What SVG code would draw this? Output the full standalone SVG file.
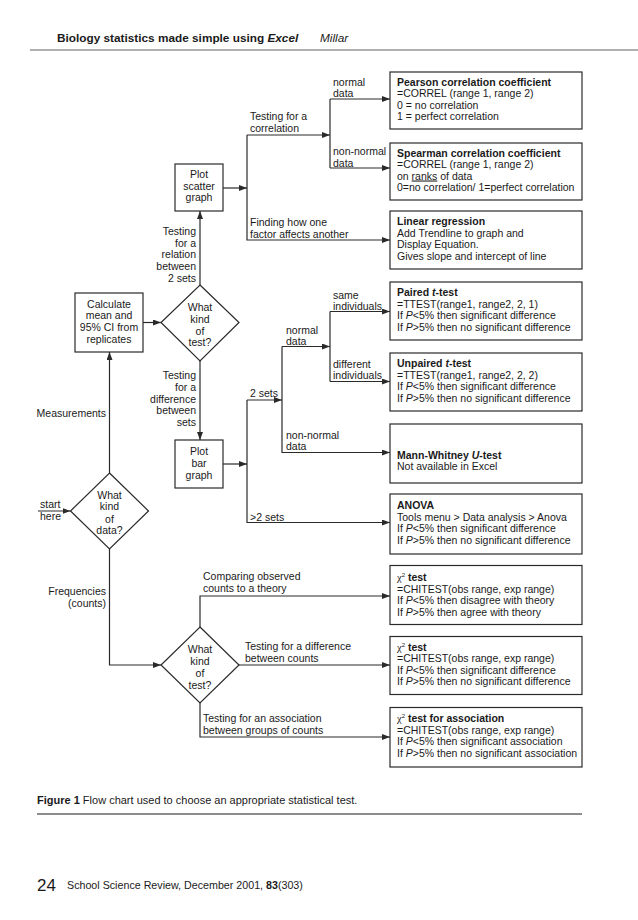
<svg xmlns="http://www.w3.org/2000/svg" width="638" height="920" viewBox="0 0 638 920">
<style>
text{font-family:"Liberation Sans",Arial,sans-serif;font-size:10.5px;fill:#1a1a1a}
.b{font-weight:bold}
.i{font-style:italic}
.m{text-anchor:middle}
.e{text-anchor:end}
.box{fill:#fff;stroke:#2a2a2a;stroke-width:1.2}
.ln{fill:none;stroke:#2a2a2a;stroke-width:1.2}
.ar{marker-end:url(#ah)}
</style>
<defs>
<marker id="ah" markerUnits="userSpaceOnUse" markerWidth="8" markerHeight="6" refX="8" refY="3" orient="auto">
<path d="M0,0 L8,3 L0,6 z" fill="#2a2a2a"/>
</marker>
</defs>
<rect width="638" height="920" fill="#fff"/>
<g id="header">
<text x="57" y="42" class="b" style="font-size:11.8px">Biology statistics made simple using <tspan class="i">Excel</tspan></text>
<text x="320" y="42" class="i" style="font-size:11.8px">Millar</text>
<line x1="30" y1="50" x2="638" y2="50" stroke="#b0b0b0" stroke-width="2"/>
</g>
<g id="connectors">
<path class="ln ar" d="M38,511 H70.5"/>
<path class="ln ar" d="M109.5,473 V352"/>
<path class="ln ar" d="M143,322.5 H161"/>
<path class="ln ar" d="M200,285 V211"/>
<path class="ln ar" d="M200,361 V440"/>
<path class="ln ar" d="M223,188 H247"/>
<path class="ln ar" d="M247,135 V240 H390"/>
<path class="ln ar" d="M247,135 H330"/>
<path class="ln" d="M330,99 V168"/>
<path class="ln ar" d="M330,99 H390"/>
<path class="ln ar" d="M330,168 H390"/>
<path class="ln ar" d="M223,464 H247"/>
<path class="ln ar" d="M247,400 V522.5 H390"/>
<path class="ln ar" d="M247,400 H282"/>
<path class="ln ar" d="M282,346.5 V452.5 H390"/>
<path class="ln ar" d="M282,346.5 H330"/>
<path class="ln" d="M330,311.5 V381.5"/>
<path class="ln ar" d="M330,311.5 H390"/>
<path class="ln ar" d="M330,381.5 H390"/>
<path class="ln ar" d="M109.5,549 V665 H161"/>
<path class="ln ar" d="M200,627 V596 H390"/>
<path class="ln ar" d="M239,665 H390"/>
<path class="ln ar" d="M200,703 V737 H390"/>
</g>
<g id="connector-labels">
<text x="40" y="508">start</text>
<text x="40" y="519.5">here</text>
<text x="106" y="417" class="e">Measurements</text>
<text x="106" y="594.5" class="e">Frequencies</text>
<text x="106" y="606.5" class="e">(counts)</text>
<text x="196" y="234.5" class="e">Testing</text>
<text x="196" y="246.5" class="e">for a</text>
<text x="196" y="258" class="e">relation</text>
<text x="196" y="269.5" class="e">between</text>
<text x="196" y="281.5" class="e">2 sets</text>
<text x="196" y="378.5" class="e">Testing</text>
<text x="196" y="391" class="e">for a</text>
<text x="196" y="402.5" class="e">difference</text>
<text x="196" y="414" class="e">between</text>
<text x="196" y="425.5" class="e">sets</text>
<text x="250" y="120">Testing for a</text>
<text x="250" y="131.5">correlation</text>
<text x="333" y="85.5">normal</text>
<text x="333" y="97">data</text>
<text x="333" y="155">non-normal</text>
<text x="333" y="166.5">data</text>
<text x="250" y="226">Finding how one</text>
<text x="250" y="237.5">factor affects another</text>
<text x="333" y="298.5">same</text>
<text x="333" y="309.5">individuals</text>
<text x="286" y="333.5">normal</text>
<text x="286" y="344.5">data</text>
<text x="333" y="367.5">different</text>
<text x="333" y="379">individuals</text>
<text x="250" y="397">2 sets</text>
<text x="286" y="438.5">non-normal</text>
<text x="286" y="450">data</text>
<text x="250" y="520.5">&gt;2 sets</text>
<text x="203" y="580">Comparing observed</text>
<text x="203" y="592">counts to a theory</text>
<text x="245" y="650">Testing for a difference</text>
<text x="245" y="662">between counts</text>
<text x="203" y="722">Testing for an association</text>
<text x="203" y="733.5">between groups of counts</text>
</g>
<g id="calc">
<rect class="box" x="75" y="293" width="68" height="59"/>
<text x="109" y="307.5" class="m">Calculate</text>
<text x="109" y="319" class="m">mean and</text>
<text x="109" y="331" class="m">95% CI from</text>
<text x="109" y="342.5" class="m">replicates</text>
</g>
<g id="test1">
<path class="box" d="M200,285 L239,322.5 L200,361 L161,322.5 z"/>
<text x="200" y="311" class="m">What</text>
<text x="200" y="323" class="m">kind</text>
<text x="200" y="334.5" class="m">of</text>
<text x="200" y="346" class="m">test?</text>
</g>
<g id="scatter">
<rect class="box" x="175" y="164" width="48" height="47"/>
<text x="199" y="178" class="m">Plot</text>
<text x="199" y="189.5" class="m">scatter</text>
<text x="199" y="201" class="m">graph</text>
</g>
<g id="bar">
<rect class="box" x="175" y="440" width="48" height="48"/>
<text x="199" y="455" class="m">Plot</text>
<text x="199" y="467" class="m">bar</text>
<text x="199" y="478.5" class="m">graph</text>
</g>
<g id="data">
<path class="box" d="M109.5,473 L148.5,511 L109.5,549 L70.5,511 z"/>
<text x="109.5" y="498.5" class="m">What</text>
<text x="109.5" y="510" class="m">kind</text>
<text x="109.5" y="522.5" class="m">of</text>
<text x="109.5" y="534" class="m">data?</text>
</g>
<g id="test2">
<path class="box" d="M200,627 L239,665 L200,703 L161,665 z"/>
<text x="200" y="653" class="m">What</text>
<text x="200" y="665" class="m">kind</text>
<text x="200" y="677" class="m">of</text>
<text x="200" y="688.5" class="m">test?</text>
</g>
<g id="pearson">
<rect class="box" x="390" y="72" width="192" height="57"/>
<text x="397" y="85.5" class="b">Pearson correlation coefficient</text>
<text x="397" y="97">=CORREL (range 1, range 2)</text>
<text x="397" y="108.5">0 = no correlation</text>
<text x="397" y="120">1 = perfect correlation</text>
</g>
<g id="spearman">
<rect class="box" x="390" y="143" width="192" height="57"/>
<text x="397" y="156.5" class="b">Spearman correlation coefficient</text>
<text x="397" y="168">=CORREL (range 1, range 2)</text>
<text x="397" y="179.5">on <tspan text-decoration="underline">ranks</tspan> of data</text>
<text x="397" y="191">0=no correlation/ 1=perfect correlation</text>
</g>
<g id="regression">
<rect class="box" x="390" y="211" width="192" height="58"/>
<text x="397" y="225" class="b">Linear regression</text>
<text x="397" y="236.5">Add Trendline to graph and</text>
<text x="397" y="248">Display Equation.</text>
<text x="397" y="259.5">Gives slope and intercept of line</text>
</g>
<g id="paired">
<rect class="box" x="390" y="282" width="192" height="58"/>
<text x="397" y="296" class="b">Paired <tspan class="i">t</tspan>-test</text>
<text x="397" y="307.5">=TTEST(range1, range2, 2, 1)</text>
<text x="397" y="319">If <tspan class="i">P</tspan>&lt;5% then significant difference</text>
<text x="397" y="330.5">If <tspan class="i">P</tspan>&gt;5% then no significant difference</text>
</g>
<g id="unpaired">
<rect class="box" x="390" y="353" width="192" height="58"/>
<text x="397" y="367" class="b">Unpaired <tspan class="i">t</tspan>-test</text>
<text x="397" y="378.5">=TTEST(range1, range2, 2, 2)</text>
<text x="397" y="390">If <tspan class="i">P</tspan>&lt;5% then significant difference</text>
<text x="397" y="401.5">If <tspan class="i">P</tspan>&gt;5% then no significant difference</text>
</g>
<g id="mannwhitney">
<rect class="box" x="390" y="424" width="192" height="59"/>
<text x="397" y="459" class="b">Mann-Whitney <tspan class="i">U</tspan>-test</text>
<text x="397" y="470">Not available in Excel</text>
</g>
<g id="anova">
<rect class="box" x="390" y="494" width="192" height="60"/>
<text x="397" y="509" class="b">ANOVA</text>
<text x="397" y="520.5">Tools menu &gt; Data analysis &gt; Anova</text>
<text x="397" y="532">If <tspan class="i">P</tspan>&lt;5% then significant difference</text>
<text x="397" y="543.5">If <tspan class="i">P</tspan>&gt;5% then no significant difference</text>
</g>
<g id="chi1">
<rect class="box" x="390" y="565.5" width="192" height="59"/>
<text x="397" y="581"><tspan font-family="Liberation Serif,serif">χ</tspan><tspan dy="-4" style="font-size:6px">2</tspan><tspan dy="4" class="b"> test</tspan></text>
<text x="397" y="592.5">=CHITEST(obs range, exp range)</text>
<text x="397" y="604">If <tspan class="i">P</tspan>&lt;5% then disagree with theory</text>
<text x="397" y="615.5">If <tspan class="i">P</tspan>&gt;5% then agree with theory</text>
</g>
<g id="chi2">
<rect class="box" x="390" y="636.5" width="192" height="58"/>
<text x="397" y="650.5"><tspan font-family="Liberation Serif,serif">χ</tspan><tspan dy="-4" style="font-size:6px">2</tspan><tspan dy="4" class="b"> test</tspan></text>
<text x="397" y="662">=CHITEST(obs range, exp range)</text>
<text x="397" y="673.5">If <tspan class="i">P</tspan>&lt;5% then significant difference</text>
<text x="397" y="685">If <tspan class="i">P</tspan>&gt;5% then no significant difference</text>
</g>
<g id="chi3">
<rect class="box" x="390" y="707.5" width="192" height="59.5"/>
<text x="397" y="722"><tspan font-family="Liberation Serif,serif">χ</tspan><tspan dy="-4" style="font-size:6px">2</tspan><tspan dy="4" class="b"> test for association</tspan></text>
<text x="397" y="733.5">=CHITEST(obs range, exp range)</text>
<text x="397" y="745">If <tspan class="i">P</tspan>&lt;5% then significant association</text>
<text x="397" y="756.5">If <tspan class="i">P</tspan>&gt;5% then no significant association</text>
</g>
<g id="caption">
<text x="37" y="804" style="font-size:11px"><tspan class="b">Figure 1</tspan>  Flow chart used to choose an appropriate statistical test.</text>
<line x1="37" y1="814" x2="582" y2="814" stroke="#1a1a1a" stroke-width="1"/>
</g>
<g id="footer">
<text x="37" y="891" style="font-size:17px">24</text>
<text x="67" y="889" style="font-size:10.7px">School Science Review, December 2001, <tspan class="b">83</tspan>(303)</text>
</g>
</svg>
